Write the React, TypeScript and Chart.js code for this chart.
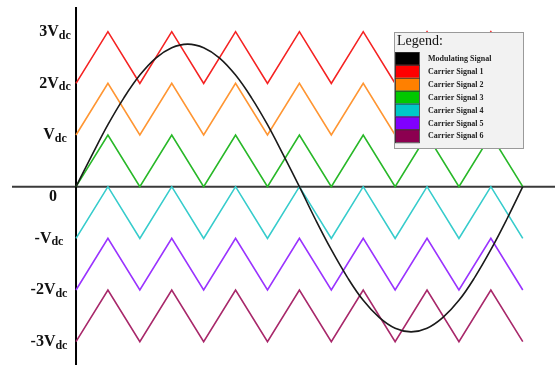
import React, { useEffect, useRef } from "react";
import { Chart, registerables } from "chart.js";

Chart.register(...registerables);

// Carrier vertex times (in carrier half-periods) and triangle phase (0 = low, 1 = high)
const carrierTimes = [0, 1, 2, 3, 4, 5, 6, 7, 8, 9, 10, 11, 12, 13, 14];
const carrierPhase = [0, 1, 0, 1, 0, 1, 0, 1, 0, 1, 0, 1, 0, 1, 0];
const carrierOffsets = [2, 1, 0, -1, -2, -3];
const carrierLabels = [
  "Carrier Signal 1",
  "Carrier Signal 2",
  "Carrier Signal 3",
  "Carrier Signal 4",
  "Carrier Signal 5",
  "Carrier Signal 6",
];
const carrierLineColors = ["#f52222", "#ff9633", "#28b828", "#36cccc", "#9a33ff", "#a8286a"];
const carrierSwatchColors = ["#ff0000", "#ff8000", "#00c800", "#00c8c8", "#8000ff", "#8c0050"];

// Modulating signal samples (time in carrier half-periods, value in Vdc)
const modTimes = [
  0, 0.5, 1, 1.5, 2, 2.5, 3, 3.5, 4, 4.5, 5, 5.5, 6, 6.5, 7,
  7.5, 8, 8.5, 9, 9.5, 10, 10.5, 11, 11.5, 12, 12.5, 13, 13.5, 14,
];
const modValues = [
  0, 0.61, 1.2, 1.72, 2.16, 2.49, 2.69, 2.76, 2.69, 2.49, 2.16, 1.72, 1.2, 0.61, 0,
  -0.63, -1.22, -1.75, -2.2, -2.53, -2.74, -2.81, -2.74, -2.53, -2.2, -1.75, -1.22, -0.63, 0,
];
const modLabel = "Modulating Signal";

// Y axis tick labels
const yTickValues = [3, 2, 1, 0, -1, -2, -3];
const yTickMain = ["3V", "2V", "V", "0", "-V", "-2V", "-3V"];
const yTickSub = ["dc", "dc", "dc", "", "dc", "dc", "dc"];

const legendTitle = "Legend:";

const SERIF = '"Liberation Serif", "Times New Roman", serif';

export default function App() {
  const ref = useRef<HTMLCanvasElement | null>(null);

  useEffect(() => {
    if (!ref.current) return;

    const datasets: any[] = [
      {
        label: modLabel,
        data: modTimes.map((t, i) => ({ x: t, y: modValues[i] })),
        borderColor: "#1a1a1a",
        borderWidth: 1.6,
        pointRadius: 0,
        tension: 0.4,
        fill: false,
        swatch: "#000000",
      },
      ...carrierOffsets.map((off, c) => ({
        label: carrierLabels[c],
        data: carrierTimes.map((t, i) => ({ x: t, y: off + carrierPhase[i] })),
        borderColor: carrierLineColors[c],
        borderWidth: 1.6,
        pointRadius: 0,
        tension: 0,
        fill: false,
        swatch: carrierSwatchColors[c],
      })),
    ];

    const decor = {
      id: "decor",
      beforeDatasetsDraw(chart: any) {
        const ctx = chart.ctx;
        const xs = chart.scales.x;
        const ys = chart.scales.y;
        const a = chart.chartArea;
        const y0 = ys.getPixelForValue(0);
        const x0 = xs.getPixelForValue(0);
        ctx.save();
        ctx.lineWidth = 2;
        ctx.strokeStyle = "#3a3a3a";
        ctx.beginPath();
        ctx.moveTo(a.left, y0);
        ctx.lineTo(a.right, y0);
        ctx.stroke();
        ctx.strokeStyle = "#000";
        ctx.beginPath();
        ctx.moveTo(x0, a.top);
        ctx.lineTo(x0, a.bottom);
        ctx.stroke();
        ctx.restore();
      },
      afterDraw(chart: any) {
        const ctx = chart.ctx;
        const ys = chart.scales.y;
        ctx.save();
        // Y labels
        ctx.fillStyle = "#111";
        ctx.textBaseline = "middle";
        ctx.textAlign = "left";
        yTickValues.forEach((v, i) => {
          const py = ys.getPixelForValue(v);
          const main = yTickMain[i];
          const sub = yTickSub[i];
          ctx.font = `bold 16px ${SERIF}`;
          const wm = ctx.measureText(main).width;
          ctx.font = `bold 12px ${SERIF}`;
          const ws = sub ? ctx.measureText(sub).width : 0;
          const w = wm + ws;
          if (!sub) {
            ctx.font = `bold 16px ${SERIF}`;
            ctx.fillText(main, 53 - w / 2, py + 10);
            return;
          }
          const cx = v > 0 ? 55 : 49;
          const sx = cx - w / 2;
          ctx.font = `bold 16px ${SERIF}`;
          ctx.fillText(main, sx, py);
          ctx.font = `bold 12px ${SERIF}`;
          ctx.fillText(sub, sx + wm, py + 4);
        });

        // Legend
        const lx = 394, ly = 32, lw = 129, lh = 116;
        ctx.fillStyle = "#f2f2f2";
        ctx.fillRect(lx, ly, lw, lh);
        ctx.strokeStyle = "#9a9a9a";
        ctx.lineWidth = 1;
        ctx.strokeRect(lx + 0.5, ly + 0.5, lw, lh);
        ctx.fillStyle = "#111";
        ctx.font = `14px ${SERIF}`;
        ctx.textBaseline = "middle";
        ctx.fillText(legendTitle, lx + 3, ly + 9);
        const items = chart.data.datasets;
        const rowH = 12.9;
        items.forEach((ds: any, i: number) => {
          const ry = 52 + i * rowH;
          ctx.fillStyle = ds.swatch;
          ctx.fillRect(395, ry, 24, rowH);
          ctx.strokeStyle = "#333";
          ctx.lineWidth = 0.8;
          ctx.strokeRect(395.5, ry + 0.5, 24, rowH);
          ctx.fillStyle = "#222";
          ctx.font = `bold 8px ${SERIF}`;
          ctx.fillText(ds.label, 428, ry + rowH / 2 + 0.5);
        });
        ctx.restore();
      },
    };

    const chart = new Chart(ref.current, {
      type: "line",
      data: { datasets },
      options: {
        animation: false,
        responsive: false,
        devicePixelRatio: 1,
        layout: { padding: { left: 12, top: 7, right: 1, bottom: 2 } },
        plugins: { legend: { display: false }, tooltip: { enabled: false } },
        scales: {
          x: { type: "linear", min: -2.006, max: 15.01, display: false },
          y: { type: "linear", min: -3.451, max: 3.478, display: false },
        },
        elements: { line: { capBezierPoints: true } },
      } as any,
      plugins: [decor],
    });
    return () => chart.destroy();
  }, []);

  return (
    <div style={{ position: "fixed", left: 0, top: 0, width: 556, height: 367, background: "#fff" }}>
      <canvas ref={ref} width={556} height={367} style={{ width: 556, height: 367 }} />
    </div>
  );
}
